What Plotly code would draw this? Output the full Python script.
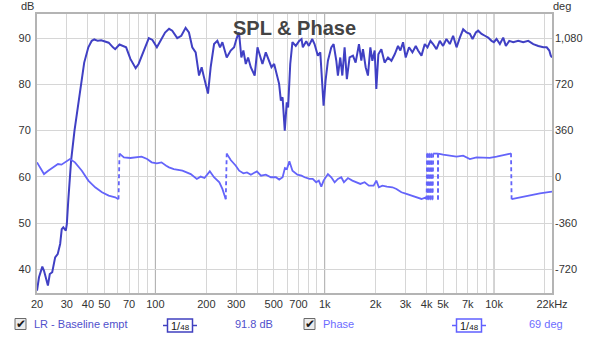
import plotly.graph_objects as go
import math

# SPL magnitude response (Hz, dB)
spl_freq = [20, 20.55, 21.5, 22.0, 23.2, 23.8, 24.6, 25.6, 26.5, 27.4, 28.0, 28.6, 29.6, 30.0,
            30.6, 31.8, 33.3, 34.7, 36.4, 38.0, 40.2, 42.1, 43.6, 45.7, 47.9, 50.7, 53.0, 56.2,
            57.9, 61.4, 65.2, 67.2, 71.2, 76.5, 79.6, 84.1, 87.8, 91.5, 96.1, 102.1, 108.7, 114.1,
            120.5, 125.8, 134.7, 142.3, 150.9, 157.9, 165.2, 173, 181.1, 187.7, 193.8, 204.6,
            212.2, 222.2, 232.4, 241, 248.8, 263.9, 278.6, 291.8, 302.3, 312, 322, 331, 342, 353,
            366, 386, 401, 416, 429, 449, 470, 485, 503, 521, 538, 551, 564, 581, 597, 608, 626,
            645, 675, 707, 730, 743, 778, 806, 844, 871, 891, 911, 942, 967, 985, 1012, 1045,
            1094, 1129, 1171, 1197, 1236, 1271, 1311, 1352, 1403, 1469, 1523, 1594, 1646, 1683,
            1746, 1801, 1861, 1912, 1973, 2018, 2075, 2161, 2259, 2366, 2478, 2592, 2711, 2800,
            2903, 3010, 3148, 3297, 3450, 3561, 3729, 3900, 4047, 4215, 4366, 4572, 4783, 5003,
            5236, 5482, 5734, 6008, 6283, 6572, 6884, 7199, 7468, 7812, 8061, 8443, 8830, 9235,
            9672, 9979, 10350, 10830, 11330, 11750, 12300, 12990, 13910, 14880, 15930, 17060,
            18260, 19550, 20470, 21210, 21620, 22000]
spl_db = [35.4, 38.3, 40.6, 39.7, 36.5, 39.0, 39.4, 42.6, 43.3, 45.5, 48.7, 49.1, 48.4, 49.8,
          54.9, 63.5, 70.0, 74.3, 80.1, 84.7, 88.0, 89.4, 89.7, 89.4, 89.5, 89.3, 89.0, 88.0,
          87.6, 88.6, 88.3, 88.0, 85.5, 83.5, 84.4, 86.5, 88.3, 90.0, 89.6, 88.0, 89.8, 91.2,
          92.0, 91.6, 90.0, 90.5, 92.2, 91.2, 88.0, 86.9, 81.9, 83.7, 81.5, 78.0,
          83.7, 88.7, 89.4, 88.0, 89.1, 85.8, 87.3, 88.0, 90.0, 91.2, 85.8, 87.3, 84.4, 85.8,
          83.7, 81.9, 88.0, 86.2, 84.4, 86.9, 85.1, 83.7, 84.4, 81.9, 80.1, 76.5, 77.2, 70.0,
          76.1, 75.0, 84.4, 89.1, 88.3, 89.4, 89.8, 88.0, 89.3, 88.3, 89.8, 88.7, 87.3, 86.2,
          86.9, 78.6, 75.4, 80.8, 85.1, 88.0, 88.7, 85.1, 81.9, 85.8, 81.9, 88.0, 81.1, 85.8,
          86.2, 84.7, 88.7, 85.1, 87.6, 83.7, 81.9, 88.0, 85.1, 87.3, 79.0, 86.5, 87.6, 84.7,
          85.8, 85.1, 86.5, 88.3, 87.3, 89.1, 85.8, 88.0, 86.9, 88.3, 87.3, 86.2, 88.7, 88.0,
          89.4, 88.7, 87.6, 89.4, 88.3, 89.8, 88.7, 90.5, 88.0, 90.1, 91.9, 91.2, 90.9, 89.8,
          91.2, 91.6, 90.9, 90.5, 90.1, 89.4, 89.1, 89.8, 88.7, 90.1, 88.3, 89.4, 89.1, 89.4,
          89.1, 89.4, 88.7, 88.3, 88.0, 88.0, 87.3, 86.2, 85.8]

# Wrapped phase response (Hz, degrees)
phase_freq = [20, 20.8, 22.0, 23.3, 24.9, 26.6, 27.9, 29.98, 31.3, 33.5, 36.8, 40.2, 44.1, 48.4,
              53, 57.9, 60.6, 61.4, 65.2, 71.2, 76.5, 82.9, 89.4, 95.1, 102, 108.7, 115.9, 120.4,
              128.5, 144.5, 161.8, 175.7, 185.2, 195, 209.7, 222, 238.7, 248.8, 260.5, 263.9,
              278.6, 298.6, 312.6, 331, 347.6, 366.6, 397.7, 420.6, 449.3, 481, 515, 538.8, 564.3,
              582.4, 598.7, 618.8, 645.2, 690, 730, 761, 813, 850, 891, 923, 955, 985, 1045, 1094,
              1145, 1197, 1253, 1299, 1372, 1457, 1537, 1624, 1721, 1824, 1945, 2018, 2090, 2190,
              2331, 2512, 2653, 2839, 3040, 3254, 3486, 3729, 3957, 4000, 4025, 4050, 4075, 4100,
              4130, 4160, 4190, 4220, 4250, 4280, 4310, 4340, 4370, 4420, 4500, 4600, 4660, 4670,
              4680, 4800, 5003, 5482, 6008, 6572, 7199, 7880, 8618, 9435, 10350, 11330, 12300,
              12600, 12700, 14220, 16300, 18670, 20470, 22000]
phase_deg = [113, 74, 22, 48, 74, 100, 95, 126, 139, 113, 48, -29, -81, -120,
             -146, -159, -174, 181, 152, 147, 152, 157, 139, 113, 105, 113, 87, 74,
             61, 48, 22, -16, 2, -9, 43, -3, -42, -94, -174, 181,
             131, 87, 48, 28, 35, 17, 43, 9, 17, -3, -3, -21, -3,
             69, 61, 121, 48, 17, 9, -3, -16, -16, -42, -29, -76, -29, 22, -3,
             -42, -16, -3, -42, -9, -29, -42, -55, -42, -68, -68, -29, -81, -68,
             -76, -81, -94, -120, -133, -146, -154, -172, -159, -176, 181, 180, -176, -177,
             181, 180, -176, -177, 181, 180, -176, -177, 181, 180, 179, 180, 181, -176,
             181, 176, 173, 165, 157, 165, 139, 152, 147, 147, 157, 165, 178,
             183, -174, -159, -146, -128, -120, -115]

x_tickvals = [20, 30, 40, 50, 70, 100, 200, 300, 500, 700, 1000, 2000, 3000, 4000, 5000,
              7000, 10000, 22000]
x_ticktext = ["20", "30", "40", "50", "70", "100", "200", "300", "500", "700", "1k", "2k",
              "3k", "4k", "5k", "7k", "10k", "22kHz"]
x_gridvals = [20, 30, 40, 50, 60, 70, 80, 90, 200, 300, 400, 500, 600, 700, 800, 900,
              2000, 3000, 4000, 5000, 6000, 7000, 8000, 9000, 20000]
x_decades = [100, 1000, 10000]
db_ticks = [40, 50, 60, 70, 80, 90]
deg_ticks = [-720, -360, 0, 360, 720, 1080]
deg_ticktext = ["-720", "-360", "0", "360", "720", "1,080"]

SPL_COLOR = "#4040c4"
PHASE_COLOR = "#6464fa"
W, H = 600, 337
ML, MR, MT, MB = 37, 48, 14, 44
PW, PH = W - ML - MR, H - MT - MB
DB_RANGE = [34.9, 95.2]
DEG_RANGE = [(v - 60) * 36 for v in DB_RANGE]


def px(x):
    return (x - ML) / PW


def py(y):
    return (H - MB - y) / PH


# split wrapped phase into solid runs and dashed wrap connectors
ph_x, ph_y, wr_x, wr_y = [], [], [], []
for i, (f, d) in enumerate(zip(phase_freq, phase_deg)):
    if i > 0 and abs(d - phase_deg[i - 1]) > 180:
        ph_x.append(None)
        ph_y.append(None)
        wr_x += [phase_freq[i - 1], f, None]
        wr_y += [phase_deg[i - 1], d, None]
    ph_x.append(f)
    ph_y.append(d)

fig = go.Figure()
fig.add_trace(go.Scatter(x=ph_x, y=ph_y, yaxis="y2", mode="lines", connectgaps=False,
                         line=dict(color=PHASE_COLOR, width=1.8), hoverinfo="skip"))
fig.add_trace(go.Scatter(x=wr_x, y=wr_y, yaxis="y2", mode="lines", connectgaps=False,
                         line=dict(color=PHASE_COLOR, width=1.8, dash="4px,3px"),
                         hoverinfo="skip"))
fig.add_trace(go.Scatter(x=spl_freq, y=spl_db, mode="lines",
                         line=dict(color=SPL_COLOR, width=2), hoverinfo="skip"))

shapes = []
for f in x_decades:
    shapes.append(dict(type="line", xref="x", yref="paper", x0=f, x1=f, y0=0, y1=1,
                       line=dict(color="#a8a8a8", width=1), layer="below"))

# legend row
ann = []
font_tick = dict(family="Liberation Sans, Arial, sans-serif", size=11, color="#333333")
for cx, label, lcol, bx, bcol, val, vx in [
        (20.5, "LR - Baseline empt", "#5050cc", 180, "#4040c0", "91.8 dB", 254),
        (309.5, "Phase", "#6c6cff", 469, "#6060ff", "69 deg", 546)]:
    shapes.append(dict(type="rect", xref="paper", yref="paper",
                       x0=px(cx - 5.5), x1=px(cx + 5.5), y0=py(329.5), y1=py(318.5),
                       line=dict(color="#6a6a6a", width=1), fillcolor="#ececec"))
    ann.append(dict(x=px(cx + 0.5), y=py(323.5), xref="paper", yref="paper", text="<b>✔</b>",
                    showarrow=False, font=dict(family="DejaVu Sans", size=12, color="#1a1a1a"),
                    xanchor="center", yanchor="middle"))
    ann.append(dict(x=px(cx + 11), y=py(324), xref="paper", yref="paper", text=label,
                    showarrow=False, font=dict(family="Liberation Sans, Arial", size=11, color=lcol),
                    xanchor="left", yanchor="middle"))
    shapes.append(dict(type="rect", xref="paper", yref="paper",
                       x0=px(bx - 12.5), x1=px(bx + 12.5), y0=py(332), y1=py(319),
                       line=dict(color=bcol, width=1.5), fillcolor="white"))
    for a, b in [(bx - 17, bx - 12.5), (bx + 12.5, bx + 17)]:
        shapes.append(dict(type="line", xref="paper", yref="paper", x0=px(a), x1=px(b),
                           y0=py(325.5), y1=py(325.5), line=dict(color=bcol, width=1.5)))
    ann.append(dict(x=px(bx), y=py(325.5), xref="paper", yref="paper",
                    text="1/<span style='font-size:8px'>48</span>", showarrow=False,
                    font=dict(family="Liberation Sans, Arial", size=11, color="#202020"),
                    xanchor="center", yanchor="middle"))
    ann.append(dict(x=px(vx), y=py(324), xref="paper", yref="paper", text=val,
                    showarrow=False, font=dict(family="Liberation Sans, Arial", size=11, color=lcol),
                    xanchor="center", yanchor="middle"))

ann.append(dict(x=0.5, y=py(28), xref="paper", yref="paper", text="<b>SPL & Phase</b>",
                showarrow=False, font=dict(family="Liberation Sans, Arial", size=20, color="#444444"),
                xanchor="center", yanchor="middle"))
ann.append(dict(x=px(27), y=py(6), xref="paper", yref="paper", text="dB", showarrow=False,
                font=font_tick, xanchor="center", yanchor="middle"))
ann.append(dict(x=px(562), y=py(6), xref="paper", yref="paper", text="deg", showarrow=False,
                font=font_tick, xanchor="center", yanchor="middle"))

fig.update_layout(
    width=W, height=H, margin=dict(l=ML, r=MR, t=MT, b=MB),
    paper_bgcolor="white", plot_bgcolor="white", showlegend=False,
    shapes=shapes, annotations=ann,
    xaxis=dict(type="log", range=[math.log10(20), math.log10(22000)],
               tickvals=x_tickvals, ticktext=x_ticktext, tickfont=font_tick,
               showgrid=False, ticks="", zeroline=False,
               showline=True, linecolor="#b4b4b4", linewidth=2, mirror=True,
               minor=dict(tickvals=x_gridvals, showgrid=True, gridcolor="#d6d6d6",
                          gridwidth=1, ticks="")),
    yaxis=dict(range=DB_RANGE, tickvals=db_ticks, tickfont=font_tick, showgrid=True,
               gridcolor="#d6d6d6", gridwidth=1, ticks="", zeroline=False,
               showline=True, linecolor="#b4b4b4", linewidth=2, mirror=True,
               ticklabelstandoff=2),
    yaxis2=dict(range=DEG_RANGE, overlaying="y", side="right", tickvals=deg_ticks,
                ticktext=deg_ticktext, tickfont=font_tick, showgrid=False, ticks="",
                zeroline=False, showline=False, ticklabelstandoff=2),
)

fig.write_html("out.html")
